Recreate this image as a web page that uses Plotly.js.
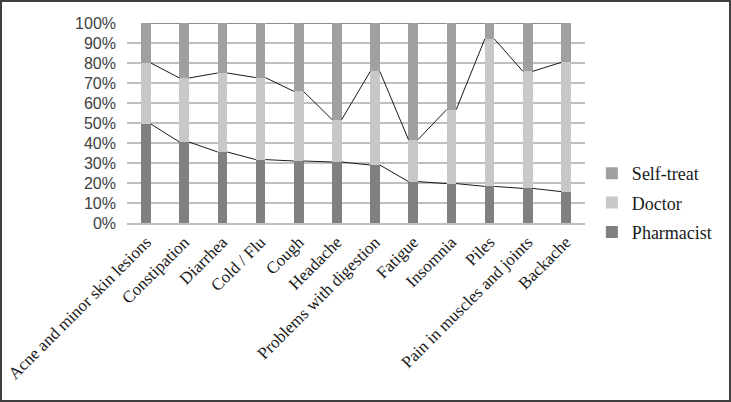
<!DOCTYPE html>
<html>
<head>
<meta charset="utf-8">
<script src="https://cdn.plot.ly/plotly-3.0.1.min.js"></script>
<style>
html,body{margin:0;padding:0;background:#fff;}
#chart{width:731px;height:402px;box-sizing:border-box;border:2px solid #404040;}
</style>
</head>
<body>
<div id="chart"></div>
<script>
const categories = ["Acne and minor skin lesions","Constipation","Diarrhea","Cold / Flu","Cough","Headache","Problems with digestion","Fatigue","Insomnia","Piles","Pain in muscles and joints","Backache"];
const pharmacist = [49.5, 40.5, 35.5, 31.7, 31.0, 30.5, 29.0, 20.7, 19.7, 18.3, 17.3, 15.7];
const doctor     = [30.5, 32.0, 39.5, 41.0, 34.8, 21.2, 46.8, 21.0, 37.0, 73.7, 58.5, 64.6];
const selfTreat  = [20.0, 27.5, 25.0, 27.3, 34.2, 48.3, 24.2, 58.3, 43.3,  8.0, 24.2, 19.7];
const yTicks = [0,10,20,30,40,50,60,70,80,90,100];

const idx = categories.map((c,i)=>i);
const barW = 0.25;
const colors = {ph:"#808080", dr:"#c8c8c8", st:"#a0a0a0"};

function seriesLine(cum){
  const xs=[], ys=[];
  for(let i=0;i<cum.length-1;i++){
    xs.push(i+barW/2, i+1-barW/2, null);
    ys.push(cum[i], cum[i+1], null);
  }
  return {type:"scatter", mode:"lines", x:xs, y:ys, showlegend:false, hoverinfo:"skip",
          line:{color:"#1a1a1a", width:1}, cliponaxis:false};
}
const cumP = pharmacist.slice();
const cumD = pharmacist.map((v,i)=>v+doctor[i]);
const cumS = pharmacist.map((v,i)=>v+doctor[i]+selfTreat[i]);

const serif = "'Liberation Serif', 'Times New Roman', serif";
const traces = [
  {type:"bar", name:"Pharmacist", x:idx, y:pharmacist, width:barW, marker:{color:colors.ph}, legendgroup:"a", legendrank:3},
  {type:"bar", name:"Doctor", x:idx, y:doctor, width:barW, marker:{color:colors.dr}, legendgroup:"b", legendrank:2},
  {type:"bar", name:"Self-treat", x:idx, y:selfTreat, width:barW, marker:{color:colors.st}, legendgroup:"c", legendrank:1},
  seriesLine(cumP), seriesLine(cumD), seriesLine(cumS)
];

const layout = {
  width:727, height:398,
  margin:{l:125, r:141, t:21, b:177},
  paper_bgcolor:"#fff", plot_bgcolor:"#fff",
  barmode:"stack",
  showlegend:true,
  font:{family:serif},
  legend:{x:1.015, y:0.34, xanchor:"left", yanchor:"top", traceorder:"grouped", tracegroupgap:3,
          font:{family:serif, size:18, color:"#1a1a1a"}, itemwidth:30, bgcolor:"rgba(0,0,0,0)"},
  xaxis:{range:[-0.5, categories.length-0.5], tickmode:"array", tickvals:idx, ticktext:categories,
         tickangle:-45, tickfont:{family:serif, size:17, color:"#1a1a1a"}, ticklabeloverflow:"allow", ticklabelstandoff:1,
         showgrid:false, zeroline:false, showline:true, linecolor:"#bfbfbf", linewidth:1.5, ticks:"", fixedrange:true},
  yaxis:{range:[0,100], tickmode:"array", tickvals:yTicks, ticktext:yTicks.map(v=>v+"%"),
         tickfont:{family:"Liberation Sans", size:16, color:"#404040"}, ticklabelstandoff:10,
         showgrid:true, gridcolor:"#bfbfbf", gridwidth:1.5, zeroline:false, showline:false, ticks:"", ticklen:0, fixedrange:true},
  bargap:0
};
Plotly.newPlot("chart", traces, layout, {displayModeBar:false, staticPlot:true});
</script>
</body>
</html>
